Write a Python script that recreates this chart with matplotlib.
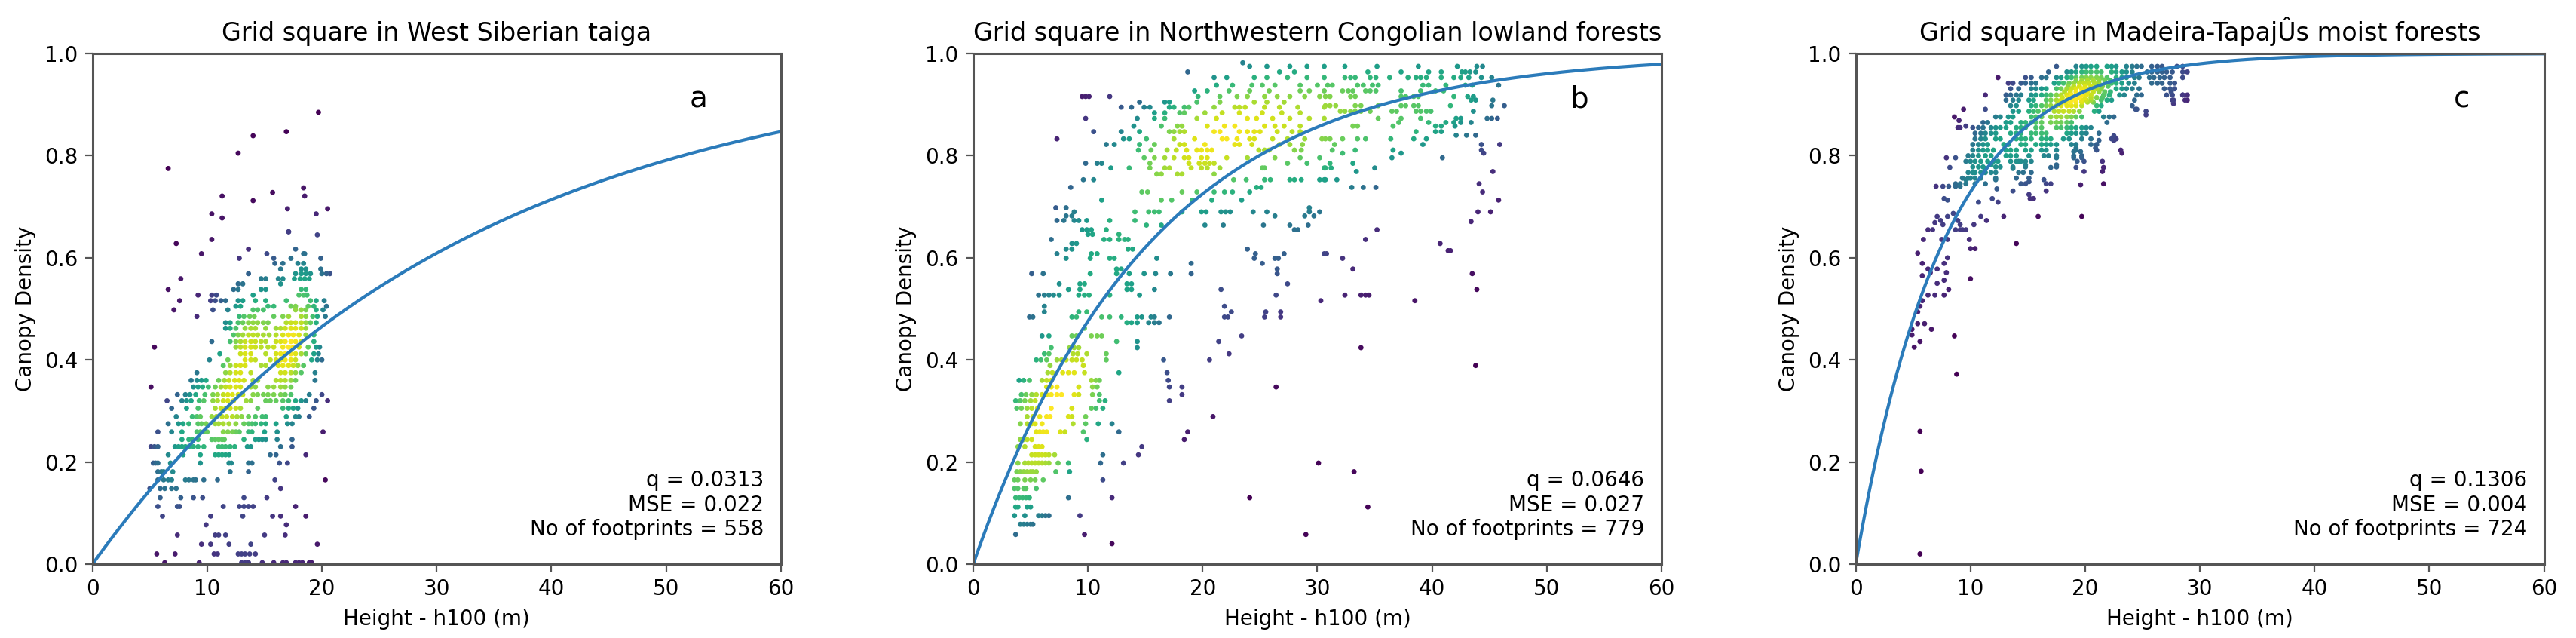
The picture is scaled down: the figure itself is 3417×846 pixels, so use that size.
import numpy as np
import matplotlib
matplotlib.use("Agg")
import matplotlib.pyplot as plt

# panel texts
titles = [
    "Grid square in West Siberian taiga",
    "Grid square in Northwestern Congolian lowland forests",
    "Grid square in Madeira-TapajÛs moist forests",
]
letters = ["a", "b", "c"]
q_values = [0.0313, 0.0646, 0.1306]
mse_values = ["0.022", "0.027", "0.004"]
footprints = [558, 779, 724]

# footprints: (canopy density, [heights h100 in m])
rows_a = [
    (0.003, [6.3, 9.3, 13.0, 13.3, 13.6, 14.8, 15.8, 16.6, 16.9, 17.7, 18.0, 18.3, 18.9, 19.1]),
    (0.020, [5.6, 7.2, 10.6, 10.9, 12.7, 13.0, 13.3, 13.7, 14.2]),
    (0.039, [9.5, 10.3, 11.9, 13.8, 19.6]),
    (0.057, [7.4, 10.7, 11.0, 11.6, 15.0, 16.8]),
    (0.077, [9.9, 16.9]),
    (0.094, [6.1, 10.3, 13.1, 15.7, 16.4, 18.6]),
    (0.113, [5.7, 7.4, 7.6, 11.4, 12.8, 13.2, 13.6, 14.0, 17.7]),
    (0.130, [5.9, 7.7, 8.8, 9.6, 13.2, 15.2]),
    (0.148, [5.0, 5.9, 6.3, 6.9, 7.3, 16.4]),
    (0.165, [5.7, 6.2, 6.6, 6.9, 8.1, 8.4, 8.8, 9.0, 9.7, 10.9, 15.9, 20.3]),
    (0.181, [5.7, 6.0, 6.2, 7.0, 12.0, 13.6]),
    (0.198, [5.3, 5.5, 5.7, 6.8, 9.4, 11.9, 12.1, 13.6, 13.9, 16.3, 17.0]),
    (0.214, [6.6, 7.9, 9.4, 10.7, 11.0, 11.3, 11.6, 11.9, 15.5, 16.0, 18.6]),
    (0.230, [5.1, 5.4, 5.7, 7.2, 7.5, 7.8, 8.1, 8.4, 8.8, 9.2, 9.7, 11.0, 11.3, 11.6, 12.0,
             12.4, 13.5, 13.8, 16.4, 17.4]),
    (0.244, [7.8, 8.4, 8.7, 9.2, 10.4, 10.7, 11.0, 11.3, 11.5, 13.2, 14.2, 14.5, 14.8, 15.1,
             16.1, 17.4]),
    (0.259, [5.7, 6.9, 7.8, 9.1, 9.4, 9.7, 10.0, 11.4, 11.8, 12.2, 12.5, 12.8, 13.6, 13.9,
             15.0, 16.1, 20.1]),
    (0.275, [6.6, 7.5, 7.9, 8.4, 9.2, 9.5, 9.9, 10.7, 11.0, 11.4, 11.9, 12.5, 13.2, 13.6,
             13.9, 14.2, 14.7, 15.1, 16.0, 17.0, 17.4]),
    (0.289, [7.3, 8.7, 9.1, 9.4, 10.4, 10.8, 11.3, 11.7, 12.2, 12.6, 13.0, 13.6, 14.2, 14.8,
             15.1, 16.9, 17.7, 18.0, 18.9]),
    (0.305, [6.9, 8.2, 9.2, 10.7, 11.2, 11.6, 12.0, 12.5, 12.9, 14.4, 16.6, 17.1, 17.5, 17.9, 19.3]),
    (0.320, [6.5, 7.8, 8.2, 8.6, 9.3, 9.7, 10.5, 10.9, 11.4, 11.8, 12.3, 13.4, 13.8, 15.1,
             15.5, 16.0, 16.6, 17.1, 17.7, 18.2, 18.6, 19.5, 20.5]),
    (0.332, [7.4, 8.1, 8.5, 9.0, 9.8, 10.5, 10.9, 11.4, 11.8, 12.2, 12.7, 13.1, 14.0, 14.4,
             14.9, 15.3, 15.8, 16.4, 16.8, 17.3, 18.9, 20.0]),
    (0.347, [5.1, 8.8, 9.2, 9.6, 10.1, 10.7, 11.2, 11.6, 12.0, 12.5, 12.9, 13.8, 14.2, 15.3,
             15.8, 16.4, 16.8, 17.3]),
    (0.360, [8.6, 9.1, 9.5, 9.9, 11.0, 11.5, 11.9, 12.4, 12.8, 13.2, 14.0, 14.4, 16.0, 16.4,
             16.8, 17.3, 17.7, 19.4]),
    (0.375, [9.1, 11.6, 12.0, 12.5, 12.9, 13.8, 16.4, 16.8, 17.3, 17.7, 18.2, 19.4]),
    (0.389, [11.4, 12.0, 12.5, 12.9, 13.3, 14.7, 15.1, 16.2, 16.6, 17.1, 17.5, 17.9, 18.4]),
    (0.400, [10.2, 11.8, 13.3, 13.8, 14.2, 15.5, 16.0, 16.4, 16.8, 17.3, 17.7, 19.1, 19.6, 20.0]),
    (0.412, [11.1, 12.9, 13.3, 13.8, 15.1, 16.0, 16.4, 16.8, 17.3, 17.7, 18.2, 18.6, 19.3, 19.7]),
    (0.425, [5.4, 12.5, 12.9, 13.3, 13.8, 14.2, 14.7, 15.3, 15.8, 16.6, 17.1, 17.5, 18.0, 18.8,
             19.5, 19.8]),
    (0.436, [10.4, 12.0, 12.5, 12.9, 13.3, 13.8, 14.2, 14.7, 15.1, 16.0, 16.4, 16.8, 17.3,
             17.7, 18.2, 19.3]),
    (0.449, [12.3, 12.7, 13.1, 13.6, 14.0, 14.4, 14.9, 15.4, 16.0, 16.6, 17.1, 17.5, 18.0,
             18.6, 19.3]),
    (0.462, [11.6, 12.0, 12.5, 13.3, 13.8, 14.2, 15.1, 16.0, 16.4, 16.8, 17.3, 17.7, 18.2, 18.6]),
    (0.473, [11.6, 12.0, 12.7, 13.1, 13.6, 14.0, 14.4, 14.9, 15.3, 16.9, 17.3, 17.7, 18.2,
             18.6, 19.0, 19.5]),
    (0.485, [9.1, 12.8, 13.2, 13.7, 14.1, 15.8, 16.6, 17.1, 18.2, 18.6, 19.2, 19.6, 20.3]),
    (0.498, [7.1, 10.5, 11.8, 14.0, 14.4, 14.9, 17.7, 18.2, 18.6, 19.5, 20.1]),
    (0.505, [12.5, 12.9, 15.3, 15.8, 17.3, 17.7, 18.8, 19.3, 20.4]),
    (0.516, [7.6, 10.3, 10.7, 11.2, 11.6, 12.7, 13.1, 14.2, 15.1, 16.9, 19.0, 19.5, 20.2]),
    (0.527, [9.2, 10.4, 10.8, 14.0, 18.0, 18.4, 18.7]),
    (0.538, [6.6, 12.3, 12.7, 14.7, 15.1, 18.2, 18.6]),
    (0.549, [12.7, 13.1, 16.4]),
    (0.559, [7.7, 14.7, 15.1, 16.2, 16.6, 17.6, 18.1, 18.5, 18.9]),
    (0.569, [13.6, 17.7, 18.2, 18.6, 19.0, 20.0, 20.4, 20.7]),
    (0.578, [16.4, 18.2, 18.6, 19.9]),
    (0.589, [15.9, 16.6, 17.9, 18.4]),
    (0.599, [12.8, 15.8, 17.3, 19.9]),
    (0.608, [9.5, 15.2, 18.4, 18.5]),
    (0.617, [13.6, 17.7]),
    (0.628, [7.3]),
    (0.636, [10.4]),
    (0.645, [19.6]),
    (0.651, [17.1, 17.1]),
    (0.678, [11.3]),
    (0.686, [10.4, 19.5]),
    (0.696, [17.0, 20.5]),
    (0.712, [14.0]),
    (0.721, [11.3, 18.5]),
    (0.728, [15.7]),
    (0.737, [18.4]),
    (0.775, [6.6]),
    (0.805, [12.7]),
    (0.839, [14.0]),
    (0.847, [16.9]),
    (0.885, [19.7]),
]

rows_b = [
    (0.040, [12.1]),
    (0.058, [3.7, 9.7, 29.0]),
    (0.078, [4.1, 4.4, 4.7, 5.0, 5.2]),
    (0.095, [3.6, 4.5, 5.7, 6.0, 6.3, 6.6, 9.3]),
    (0.112, [3.7, 3.9, 4.7, 5.0, 34.4]),
    (0.130, [3.7, 4.0, 4.3, 4.6, 4.9, 8.3, 12.1, 24.1]),
    (0.148, [3.6, 3.9, 4.4, 4.6, 5.5]),
    (0.165, [3.6, 3.9, 4.5, 5.0, 5.4, 6.1, 11.3]),
    (0.181, [3.8, 4.1, 4.4, 4.7, 5.0, 5.2, 5.5, 7.2, 8.4, 33.2]),
    (0.198, [3.9, 4.5, 4.8, 5.1, 5.4, 5.7, 6.0, 6.3, 6.6, 7.4, 8.3, 11.1, 13.1, 30.1]),
    (0.214, [5.1, 5.4, 5.7, 6.0, 6.3, 6.6, 7.1, 11.3, 14.4]),
    (0.230, [3.9, 4.5, 5.4, 5.7, 6.0, 14.7]),
    (0.244, [4.1, 4.4, 4.7, 5.1, 9.9, 18.4]),
    (0.259, [5.5, 5.8, 6.1, 6.4, 7.6, 8.0, 9.6, 12.7, 18.7]),
    (0.275, [4.1, 4.7, 5.1, 5.4, 6.0, 8.7, 9.8, 10.9, 12.1]),
    (0.289, [4.7, 5.2, 5.8, 6.4, 6.7, 8.3, 8.6, 9.8, 20.9]),
    (0.305, [3.8, 4.2, 4.7, 5.1, 5.6, 6.8, 8.6, 10.3, 10.7, 11.3]),
    (0.320, [3.7, 4.1, 4.5, 5.0, 5.4, 11.0, 11.5, 17.1]),
    (0.332, [4.2, 4.6, 5.1, 5.5, 6.0, 6.4, 6.8, 7.3, 7.7, 8.8, 9.2, 10.4, 11.0, 18.2]),
    (0.347, [6.4, 6.8, 7.3, 9.2, 10.4, 10.8, 17.1, 18.2, 26.4]),
    (0.360, [4.0, 4.4, 4.9, 6.0, 6.4, 6.8, 10.3, 10.7, 11.0, 17.0]),
    (0.375, [6.5, 6.9, 7.8, 8.3, 8.8, 9.7, 12.7, 16.9]),
    (0.389, [6.7, 9.6, 43.8]),
    (0.400, [5.5, 5.9, 6.4, 7.3, 7.7, 8.1, 8.6, 9.0, 9.5, 11.6, 16.6, 20.6]),
    (0.412, [6.2, 6.6, 8.7, 9.1, 9.9, 11.6, 22.3]),
    (0.424, [6.8, 8.4, 8.8, 9.2, 14.3, 33.8]),
    (0.436, [12.5, 14.3, 21.4]),
    (0.447, [6.0, 6.6, 8.6, 9.0, 10.3, 10.8, 11.2, 23.4]),
    (0.462, [9.7]),
    (0.473, [13.4, 13.8, 14.3, 15.3, 15.8, 16.2]),
    (0.484, [4.9, 5.2, 8.6, 9.0, 11.2, 11.9, 12.9, 14.3, 14.7, 15.5, 15.8, 17.1, 21.9, 22.2,
             25.4, 26.8]),
    (0.494, [6.2, 9.2, 9.9, 22.5, 25.5, 26.8]),
    (0.505, [6.2, 21.9]),
    (0.516, [30.3, 38.5]),
    (0.527, [5.7, 6.2, 6.6, 7.0, 7.5, 9.2, 9.7, 10.1, 11.9, 14.5, 26.4, 32.4, 33.8, 34.2, 34.5]),
    (0.538, [8.3, 9.3, 13.4, 13.8, 15.8, 21.6, 43.9]),
    (0.549, [7.5, 9.3, 9.7, 13.4, 13.8, 27.4]),
    (0.569, [5.1, 6.1, 10.2, 12.5, 13.6, 14.9, 15.9, 17.2, 19.0, 26.5, 43.5]),
    (0.578, [12.5, 12.9, 26.5, 33.1]),
    (0.589, [19.0, 25.2]),
    (0.599, [8.1, 10.2, 11.9, 12.3, 16.0, 24.5, 26.3, 26.6, 32.2]),
    (0.608, [7.3, 10.3, 10.8, 24.6, 27.1, 30.6, 30.8]),
    (0.614, [41.4, 41.6]),
    (0.617, [8.1, 8.6, 13.5, 13.9, 23.9]),
    (0.628, [8.6, 9.0, 40.7]),
    (0.636, [6.8, 11.4, 11.9, 12.7, 13.2, 13.5, 34.2]),
    (0.646, [10.0, 10.4, 12.7]),
    (0.655, [9.5, 9.9, 10.3, 11.6, 28.0, 28.3, 35.2]),
    (0.664, [15.1, 16.4, 20.2, 21.8, 25.3, 27.6, 29.2]),
    (0.671, [43.4]),
    (0.673, [7.3, 7.9, 8.8, 9.2, 9.9, 11.9, 14.1]),
    (0.682, [8.1, 8.6, 26.3, 28.9, 29.7]),
    (0.690, [8.8, 14.1, 15.3, 15.8, 16.2, 18.2, 19.9, 20.3, 21.6, 22.0, 22.4, 24.4, 25.6, 29.3,
             30.2, 44.0, 45.1]),
    (0.698, [7.2, 8.1, 29.3]),
    (0.713, [11.2, 16.4, 17.3, 19.1, 20.8, 23.4, 45.8]),
    (0.729, [14.7, 15.2, 18.2, 19.5, 21.0, 21.9, 22.6, 24.1, 44.4]),
    (0.738, [8.5, 24.7, 25.1, 33.0, 34.0, 35.1]),
    (0.745, [44.1]),
    (0.753, [9.6, 10.5, 22.7, 23.8, 25.4, 25.9, 27.6, 28.0, 28.6, 30.2, 30.6, 30.7, 31.7]),
    (0.764, [16.0, 16.4, 17.8, 18.2, 21.0]),
    (0.769, [33.4, 45.3]),
    (0.776, [12.0, 13.6, 15.4, 16.7, 17.1, 19.0, 19.9, 20.4, 21.5, 25.2, 25.4, 30.6, 30.7,
             31.2, 35.0]),
    (0.785, [9.8, 10.8, 11.2, 15.4, 18.8, 19.7, 20.2, 20.6, 21.0, 27.4, 29.1, 31.1, 33.1]),
    (0.796, [14.9, 15.8, 16.7, 17.5, 18.4, 18.8, 19.9, 20.4, 22.1, 23.9, 26.3, 28.5, 30.2,
             36.5, 40.9]),
    (0.805, [32.2, 37.3, 44.5]),
    (0.811, [14.4, 15.5, 16.9, 17.7, 18.6, 19.5, 19.9, 20.4, 20.8, 24.9, 25.4, 25.8, 28.0,
             28.6, 31.3, 33.3, 36.6, 44.3]),
    (0.822, [11.6, 12.3, 14.5, 15.8, 18.0, 18.4, 20.2, 22.8, 23.2, 24.3, 26.7, 27.6, 28.7,
             31.5, 39.2, 44.3, 45.9]),
    (0.833, [7.3, 13.1, 13.6, 15.1, 17.5, 19.3, 21.7, 22.1, 23.0, 24.1, 24.5, 26.1, 27.4,
             28.9, 30.4, 30.7, 31.1, 32.2, 33.5, 34.2, 36.4, 38.4, 39.5]),
    (0.840, [42.1, 43.0, 43.8]),
    (0.847, [10.5, 12.9, 14.5, 17.1, 17.5, 18.0, 18.4, 21.0, 21.5, 23.2, 23.9, 24.5, 25.0,
             26.5, 27.8, 28.5, 38.6, 40.3, 40.8]),
    (0.858, [14.0, 16.4, 17.8, 18.2, 20.4, 21.9, 22.8, 25.4, 26.3, 27.1, 28.5, 33.1, 33.5,
             36.6, 40.3, 40.8, 42.0]),
    (0.865, [37.1, 39.7, 41.2, 41.9, 42.5, 43.4]),
    (0.873, [9.8, 14.3, 15.8, 16.7, 19.5, 21.2, 23.9, 24.7, 26.1, 27.6, 29.3, 30.6, 35.3,
             37.3, 39.0, 42.1, 42.5, 44.8, 45.2, 45.7]),
    (0.884, [15.8, 16.7, 18.0, 18.4, 20.2, 21.7, 23.2, 25.2, 26.9, 28.5]),
    (0.887, [32.0, 32.4, 32.9, 33.3, 33.8, 34.6, 36.5, 36.9, 38.6, 39.0, 39.5, 39.9, 43.6]),
    (0.895, [12.9, 13.8, 14.9, 15.4, 17.1, 17.5, 18.4, 18.8, 21.0, 22.8, 23.2, 23.7, 25.4,
             26.7, 28.3, 30.6]),
    (0.898, [30.7, 31.1, 31.6, 33.3, 33.8, 35.3, 37.3, 37.7, 38.4, 38.8, 41.6, 45.2, 46.3]),
    (0.905, [14.5, 16.7, 17.1, 19.5, 21.5, 24.5, 25.6, 27.1]),
    (0.909, [43.4, 43.8, 45.3]),
    (0.916, [9.5, 9.8, 10.1, 11.9, 19.6, 21.5, 23.0, 23.9, 25.4, 26.5, 27.6, 28.9, 30.2,
             30.7, 31.1, 32.9, 33.3, 37.3, 37.7, 38.4, 38.8, 41.9, 43.1, 43.6]),
    (0.927, [19.3, 20.4, 22.3, 24.1, 25.8, 28.5, 29.3, 30.6, 32.2, 32.7, 33.1, 34.2, 34.6,
             35.1, 37.3, 39.0, 40.3, 41.0]),
    (0.938, [21.2, 22.6, 24.3, 25.2, 26.3, 28.5, 30.0, 30.9, 31.3, 33.5, 34.0, 34.8, 35.3,
             39.2, 39.7, 41.2, 42.9, 43.5, 45.8]),
    (0.953, [21.0, 22.1, 24.5, 25.6, 27.4, 29.1, 30.6, 32.4, 32.9, 33.3, 34.6, 35.1, 36.3,
             37.9, 38.6, 39.0, 39.5, 40.8, 41.9, 42.5, 43.2, 44.3, 45.2]),
    (0.964, [18.7, 26.7, 28.0, 34.4, 37.3, 39.7, 40.8, 42.6, 42.9, 43.3, 43.8]),
    (0.975, [24.1, 25.6, 27.6, 29.1, 30.6, 32.4, 35.2, 38.8, 42.2, 43.9, 44.4]),
    (0.982, [23.5]),
]

rows_c = [
    (0.020, [5.6]),
    (0.182, [5.7]),
    (0.260, [5.6]),
    (0.372, [8.8]),
    (0.425, [5.1]),
    (0.436, [5.6]),
    (0.447, [8.6]),
    (0.449, [4.9]),
    (0.460, [4.9, 6.6]),
    (0.471, [5.4, 6.0]),
    (0.494, [5.4]),
    (0.505, [5.6]),
    (0.516, [5.8]),
    (0.527, [6.3, 6.9, 7.7]),
    (0.538, [8.1]),
    (0.550, [7.1]),
    (0.556, [7.7]),
    (0.559, [10.0]),
    (0.565, [5.8]),
    (0.571, [6.5, 7.9]),
    (0.578, [6.3, 7.1]),
    (0.589, [5.8, 7.7]),
    (0.600, [8.0]),
    (0.609, [5.4]),
    (0.618, [10.0, 10.4]),
    (0.628, [14.0]),
    (0.636, [5.9, 7.5, 8.0, 9.9]),
    (0.655, [6.3, 6.7, 8.7, 9.1, 9.3, 9.6]),
    (0.665, [7.6, 9.1, 10.3]),
    (0.669, [6.9]),
    (0.673, [7.4, 8.9, 11.4]),
    (0.681, [7.1, 8.0, 10.9, 12.9, 15.9, 19.7]),
    (0.687, [8.5]),
    (0.709, [10.7, 12.4]),
    (0.713, [8.0]),
    (0.716, [7.7, 11.9, 15.2, 15.5]),
    (0.724, [15.1]),
    (0.731, [13.7, 16.6]),
    (0.735, [12.3]),
    (0.740, [7.0, 7.6, 8.1, 8.7, 9.1]),
    (0.743, [19.6]),
    (0.745, [8.7, 9.1, 9.6, 10.4, 11.3, 14.4, 14.8, 16.6, 17.0, 21.6]),
    (0.749, [15.1]),
    (0.753, [9.6, 12.2, 16.4]),
    (0.756, [9.3, 9.8, 10.0, 10.4, 10.9, 12.2, 14.0, 15.1]),
    (0.767, [9.8, 10.2, 10.4, 10.9, 11.3, 11.8, 12.2, 14.2, 14.6, 15.3]),
    (0.769, [19.9, 21.5]),
    (0.775, [11.3, 13.7]),
    (0.777, [8.2, 17.0, 19.2, 21.6]),
    (0.778, [10.2, 10.7, 11.1, 12.2, 12.6, 13.7, 14.8, 17.5]),
    (0.782, [11.8, 14.8, 17.5]),
    (0.789, [9.6, 10.0, 10.4, 10.9, 11.5, 12.0, 12.4, 13.5, 14.0, 14.2, 14.4, 14.8, 15.3,
             19.3, 19.9, 21.5]),
    (0.796, [7.9, 8.7, 17.5, 19.0, 19.7]),
    (0.800, [9.8, 10.2, 10.7, 11.3, 11.8, 13.1, 13.5, 14.0, 15.1, 16.4, 16.8, 17.5, 19.0, 19.7]),
    (0.805, [23.2]),
    (0.808, [19.0, 19.6]),
    (0.811, [10.2, 10.7, 11.1, 11.5, 12.0, 13.1, 13.5, 14.0, 14.8, 15.3, 16.2, 16.6, 17.5,
             19.2, 21.0, 23.1]),
    (0.815, [19.2, 20.9]),
    (0.822, [10.2, 10.7, 11.1, 11.5, 12.9, 13.3, 14.4, 14.8, 15.7, 16.2, 16.6, 17.0, 17.5,
             18.8, 19.2, 20.5, 21.0]),
    (0.830, [21.2, 22.5]),
    (0.833, [10.4, 10.9, 11.3, 12.2, 12.6, 14.0, 14.4, 14.8, 15.3, 16.2, 16.6, 17.0, 18.1,
             18.6, 19.7, 20.5, 22.3, 22.7]),
    (0.839, [22.5]),
    (0.844, [10.4, 10.9, 11.3, 11.8, 12.2, 13.5, 14.0, 14.4, 15.3, 15.7, 16.2, 16.6, 18.4,
             18.8, 19.2, 19.7, 20.1, 21.2]),
    (0.855, [8.9, 9.1, 10.2, 10.7, 11.1, 11.8, 12.2, 12.6, 13.1, 14.0, 14.4, 14.8, 15.7,
             16.2, 17.5, 17.9, 18.4, 18.8, 19.2, 19.7, 20.1, 20.5]),
    (0.858, [9.6]),
    (0.865, [11.1, 11.5, 13.1, 13.5, 14.4, 14.8, 15.3, 15.7, 16.2, 17.0, 17.5, 17.9, 18.4,
             18.8, 21.9]),
    (0.869, [9.0]),
    (0.876, [8.6, 12.2, 12.6, 13.3, 13.7, 15.3, 15.7, 16.2, 17.0, 17.5, 17.9, 18.4, 18.8,
             19.2, 19.7, 21.6, 22.1, 22.5]),
    (0.880, [25.3]),
    (0.887, [13.7, 14.2, 15.1, 15.5, 15.9, 16.4, 17.3, 17.7, 18.1, 18.6, 19.0, 19.5, 20.8,
             21.2, 25.3]),
    (0.891, [9.4, 11.3, 24.4, 24.5]),
    (0.898, [13.5, 14.0, 15.3, 15.7, 16.2, 16.6, 17.0, 17.5, 17.9, 18.4, 18.8, 19.2, 19.7,
             21.0, 21.4, 24.1]),
    (0.902, [27.7]),
    (0.905, [17.7, 18.2, 18.7, 19.2, 19.7, 20.2, 20.7]),
    (0.909, [13.1, 13.7, 14.2, 15.1, 15.5, 16.6, 17.0, 17.5, 17.9, 18.4, 18.8, 19.2, 19.7,
             20.1, 20.5, 21.4, 21.9, 22.3, 24.3, 27.6, 27.7, 28.7, 28.9]),
    (0.914, [18.0, 18.5, 19.0, 19.5, 20.0, 20.5, 21.0, 21.5]),
    (0.919, [11.3, 13.1, 13.5, 14.0, 14.4, 15.3, 15.7, 16.2, 16.6, 17.0, 17.5, 17.9, 18.4,
             18.8, 19.2, 19.7, 20.1, 20.5, 21.6, 22.1, 23.0, 23.4, 24.5, 24.9, 27.1, 27.6,
             28.5, 28.5, 28.9]),
    (0.925, [18.2, 18.7, 19.2, 19.7, 20.2, 20.7, 21.2, 21.7, 22.2, 27.5]),
    (0.931, [13.5, 14.2, 15.3, 15.7, 16.2, 16.6, 17.5, 17.9, 18.4, 18.8, 19.2, 19.7, 20.1,
             20.5, 21.0, 21.4, 22.7, 23.2, 23.6, 24.1, 24.7, 26.9, 27.4, 27.8]),
    (0.936, [18.5, 19.0, 19.5, 20.0, 20.5, 21.0, 21.5, 22.0]),
    (0.942, [13.3, 13.7, 14.4, 14.8, 15.3, 15.7, 17.3, 17.7, 18.1, 18.6, 19.0, 19.5, 19.9,
             20.3, 20.8, 21.2, 21.9, 22.3, 22.7, 23.2, 23.8, 24.3, 25.8, 26.3, 26.7, 27.4, 27.8]),
    (0.947, [19.2, 19.7, 20.2, 20.7, 21.2, 21.7, 22.2]),
    (0.953, [12.4, 14.8, 15.3, 16.2, 16.6, 17.5, 17.9, 18.4, 18.8, 19.2, 19.7, 20.1, 20.5,
             21.0, 21.4, 21.9, 22.7, 23.2, 23.6, 24.3, 24.7, 25.6, 26.0, 26.5, 26.9, 27.4, 28.5]),
    (0.964, [16.8, 18.4, 18.8, 19.2, 19.7, 20.1, 20.5, 21.0, 21.4, 22.3, 22.7, 23.2, 23.6,
             24.1, 25.4, 25.8, 26.3, 26.7, 27.1, 27.6, 28.5, 28.9]),
    (0.975, [17.5, 19.2, 19.7, 20.1, 20.5, 21.0, 21.9, 22.3, 22.7, 23.6, 24.1, 24.5, 24.9,
             25.8, 26.3, 26.7, 28.0, 28.5]),
]


def unpack(rows):
    heights = np.array([h for cd, hs in rows for h in hs])
    cover = np.array([cd for cd, hs in rows for h in hs])
    return heights, cover


def point_density(x, y):
    # gaussian kde (scott bandwidth), same idea as scipy.stats.gaussian_kde
    xy = np.vstack([x, y])
    n = xy.shape[1]
    cov = np.cov(xy) * n ** (-2.0 / 6.0)
    inv = np.linalg.inv(cov)
    dx = x[:, None] - x[None, :]
    dy = y[:, None] - y[None, :]
    d2 = inv[0, 0] * dx ** 2 + 2 * inv[0, 1] * dx * dy + inv[1, 1] * dy ** 2
    return np.exp(-0.5 * d2).sum(axis=1)


panels = [rows_a, rows_b, rows_c]
lefts = [0.0359, 0.3778, 0.7204]

fig = plt.figure(figsize=(17.085, 4.23), dpi=200)

for i, rows in enumerate(panels):
    ax = fig.add_axes([lefts[i], 0.1158, 0.2672, 0.8002])
    h, cd = unpack(rows)
    z = point_density(h, cd)
    order = z.argsort()
    ax.scatter(h[order], cd[order], c=z[order], s=6, cmap="viridis", linewidths=0)

    hh = np.linspace(0, 60, 400)
    ax.plot(hh, 1 - np.exp(-q_values[i] * hh), color="#2b7bba", lw=1.5)

    ax.set_xlim(0, 60)
    ax.set_ylim(0, 1)
    ax.set_xticks(range(0, 61, 10))
    ax.set_yticks([0.0, 0.2, 0.4, 0.6, 0.8, 1.0])
    ax.tick_params(labelsize=10, color="#555555")
    for sp in ax.spines.values():
        sp.set_color("#555555")
        sp.set_linewidth(1.1)

    ax.set_xlabel("Height - h100 (m)", fontsize=10)
    ax.set_ylabel("Canopy Density", fontsize=10)
    ax.set_title(titles[i], fontsize=12)
    ax.text(0.88, 0.91, letters[i], transform=ax.transAxes, fontsize=14,
            ha="center", va="center")
    ax.text(0.975, 0.056,
            f"q = {q_values[i]}\nMSE = {mse_values[i]}\nNo of footprints = {footprints[i]}",
            transform=ax.transAxes, fontsize=10, ha="right", va="baseline")

fig.savefig("out.png", dpi=200)
